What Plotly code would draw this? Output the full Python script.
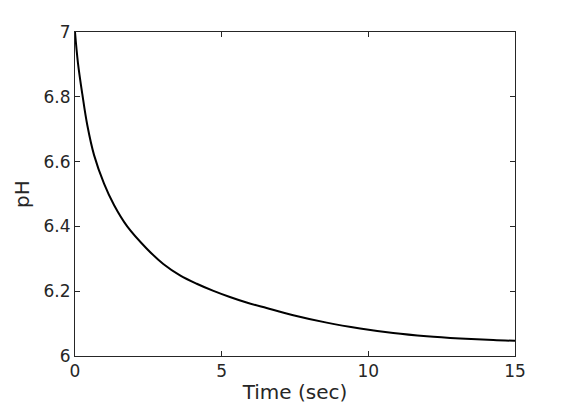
import plotly.graph_objects as go

time_sec = [0, 0.1, 0.25, 0.42, 0.65, 0.99, 1.33, 1.78, 2.44, 3.01, 3.58, 4.15, 4.72,
            5.28, 5.85, 6.53, 7.44, 8.58, 9.72, 10.85, 11.99, 13.13, 14.26, 15]
ph = [7.0, 6.905, 6.808, 6.712, 6.62, 6.532, 6.466, 6.40, 6.332, 6.284, 6.249, 6.223,
      6.201, 6.182, 6.165, 6.148, 6.126, 6.103, 6.085, 6.071, 6.061, 6.054, 6.049, 6.047]

x_ticks = [0, 5, 10, 15]
y_ticks = [6, 6.2, 6.4, 6.6, 6.8, 7]
y_tick_text = ["6", "6.2", "6.4", "6.6", "6.8", "7"]

fig = go.Figure(go.Scatter(x=time_sec, y=ph, mode="lines",
                           line=dict(color="black", width=2, shape="spline", smoothing=1)))

axis_common = dict(showline=True, linecolor="#262626", linewidth=1, mirror="ticks",
                   ticks="inside", ticklen=5, tickcolor="#262626", showgrid=False,
                   zeroline=False, tickfont=dict(family="DejaVu Sans", size=17, color="#262626"))

fig.update_layout(
    width=562, height=405,
    margin=dict(l=67, r=55, t=24, b=57),
    paper_bgcolor="white", plot_bgcolor="white",
    showlegend=False,
    font=dict(family="DejaVu Sans", color="#262626"),
    xaxis=dict(range=[0, 15], tickvals=x_ticks, title=dict(text="Time (sec)", standoff=4,
               font=dict(size=20)), **axis_common),
    yaxis=dict(range=[6, 7], tickvals=y_ticks, ticktext=y_tick_text,
               title=dict(text="pH", standoff=8, font=dict(size=20)), **axis_common),
)

fig.write_html("out.html")
